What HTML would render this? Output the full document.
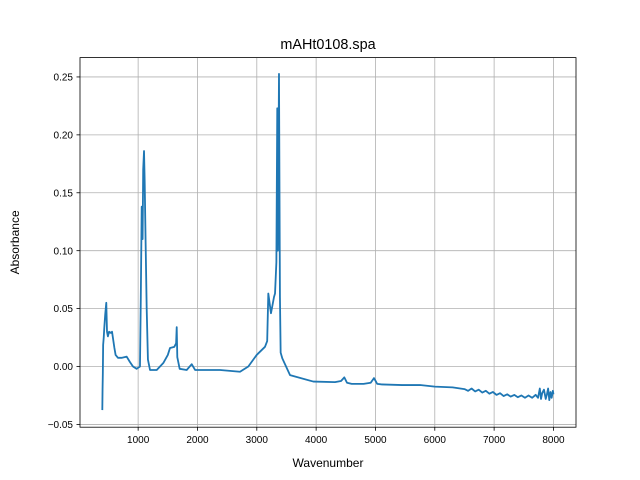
<!DOCTYPE html>
<html><head><meta charset="utf-8"><style>
body{margin:0;background:#fff;}
svg{display:block;font-family:"Liberation Sans","DejaVu Sans",sans-serif;}
</style></head><body>
<svg id="chart" width="640" height="480" viewBox="0 0 640 480" xmlns="http://www.w3.org/2000/svg">
<rect width="640" height="480" fill="#fff"/>
<text x="328" y="49" font-size="14.4" text-anchor="middle">mAHt0108.spa</text>
<text x="328" y="467" font-size="12" text-anchor="middle">Wavenumber</text>
<text transform="translate(19,242.4) rotate(-90)" font-size="12" text-anchor="middle">Absorbance</text>
<g id="grid"></g><g id="series"></g><g id="axes"></g>
</svg>
<script>
const wavenumbers=[396,400,405,410,420,430,445,463,475,490,510,540,560,580,600,620,660,720,807,860,913,975,1031,1045,1060,1075,1085,1099,1110,1125,1144,1165,1200,1313,1424,1500,1537,1610,1640,1650,1660,1700,1818,1903,1960,2100,2380,2717,2857,2998,3138,3175,3194,3239,3290,3307,3330,3345,3355,3374,3390,3402,3430,3560,3953,4318,4420,4475,4520,4600,4800,4920,4975,5030,5110,5448,5750,6000,6300,6500,6560,6620,6680,6740,6800,6860,6920,6980,7040,7100,7160,7220,7280,7340,7400,7460,7520,7580,7640,7700,7740,7770,7790,7810,7840,7870,7890,7910,7930,7950,7970,7990,8000];
const absorbance=[-0.0376,-0.02,-0.0056,0.0186,0.025,0.034,0.045,0.055,0.03,0.026,0.030,0.029,0.030,0.023,0.016,0.010,0.0075,0.0075,0.0085,0.004,0.0,-0.002,0.0,0.06,0.138,0.11,0.17,0.186,0.16,0.11,0.05,0.006,-0.003,-0.003,0.003,0.010,0.016,0.017,0.02,0.034,0.008,-0.002,-0.003,0.002,-0.003,-0.003,-0.003,-0.0045,0.0,0.010,0.017,0.022,0.063,0.046,0.06,0.063,0.09,0.223,0.10,0.2526,0.06,0.012,0.007,-0.0074,-0.013,-0.0135,-0.0125,-0.0094,-0.014,-0.015,-0.015,-0.014,-0.010,-0.015,-0.0155,-0.016,-0.016,-0.0174,-0.018,-0.0195,-0.021,-0.019,-0.0215,-0.020,-0.0225,-0.021,-0.0235,-0.022,-0.0245,-0.023,-0.0255,-0.024,-0.026,-0.0245,-0.0265,-0.025,-0.027,-0.025,-0.027,-0.0245,-0.027,-0.019,-0.028,-0.023,-0.020,-0.028,-0.024,-0.019,-0.029,-0.022,-0.027,-0.021,-0.024,-0.023];
const xTicks=[1000,2000,3000,4000,5000,6000,7000,8000];
const yTicks=[-0.05,0,0.05,0.10,0.15,0.20,0.25];
const yTickLabels=["−0.05","0.00","0.05","0.10","0.15","0.20","0.25"];
const L=80,R=576,T=57.6,B=427.2;
const xMin=20,xMax=8380,yMin=-0.0524,yMax=0.2667;
const xs=v=>L+(v-xMin)/(xMax-xMin)*(R-L);
const ys=v=>B-(v-yMin)/(yMax-yMin)*(B-T);
const NS="http://www.w3.org/2000/svg";
function mk(tag,attrs,parent){const e=document.createElementNS(NS,tag);for(const k in attrs)e.setAttribute(k,attrs[k]);parent.appendChild(e);return e;}
const grid=document.getElementById('grid'),axes=document.getElementById('axes'),series=document.getElementById('series');
xTicks.forEach(t=>{const x=xs(t);
 const g=mk('line',{x1:x,x2:x,y1:T,y2:B,stroke:'#b0b0b0','stroke-width':0.8},grid);
 
 
 const tk=mk('line',{x1:x,x2:x,y1:B,y2:B+3.5,stroke:'#000','stroke-width':0.8},axes);
 
 
 const lb=mk('text',{x:x,y:B+16,'font-size':10,'text-anchor':'middle'},axes);lb.textContent=String(t);
 
 
});
yTicks.forEach((t,i)=>{const y=ys(t);
 const g=mk('line',{x1:L,x2:R,y1:y,y2:y,stroke:'#b0b0b0','stroke-width':0.8},grid);
 
 
 const tk=mk('line',{x1:L-3.5,x2:L,y1:y,y2:y,stroke:'#000','stroke-width':0.8},axes);
 
 
 const lb=mk('text',{x:L-7,y:y+3.6,'font-size':10,'text-anchor':'end'},axes);lb.textContent=yTickLabels[i];
 
 
});
const frame=mk('rect',{x:L,y:T,width:R-L,height:B-T,fill:'none',stroke:'#000','stroke-width':0.8},axes);


const d=wavenumbers.map((w,i)=>(i?'L':'M')+xs(w).toFixed(2)+','+ys(absorbance[i]).toFixed(2)).join(' ');
const line=mk('path',{d:d,fill:'none',stroke:'#1f77b4','stroke-width':1.8,'stroke-linejoin':'round'},series);


</script>
</body></html>
